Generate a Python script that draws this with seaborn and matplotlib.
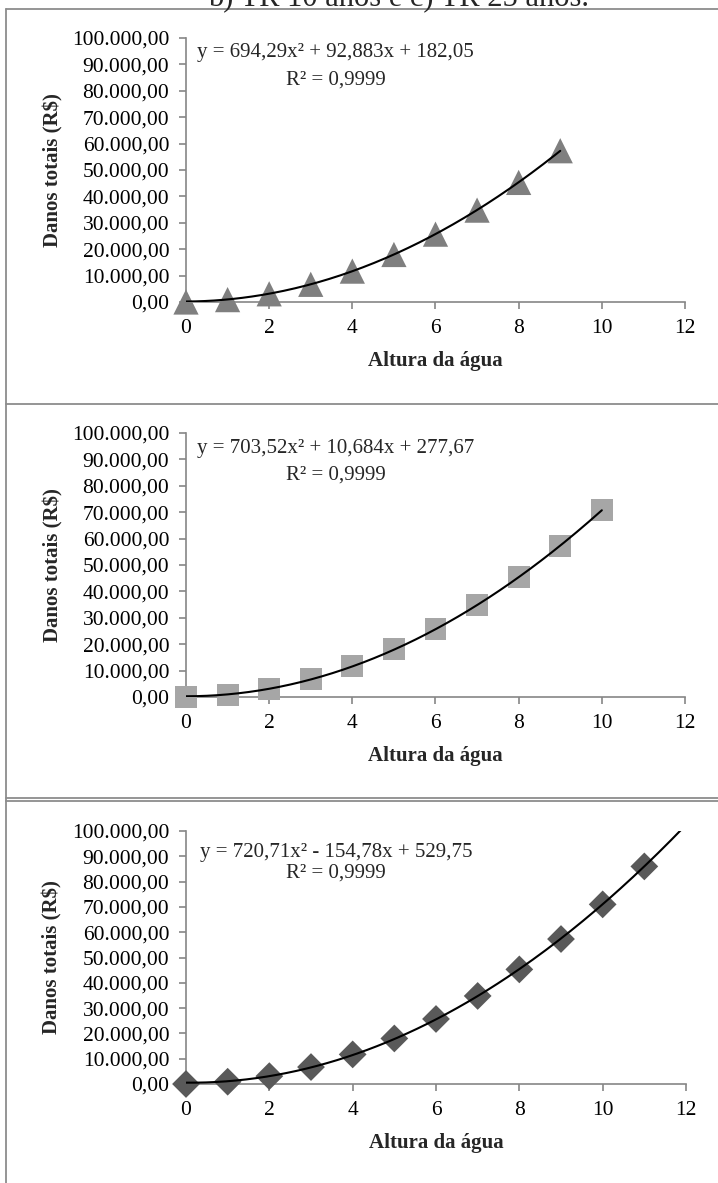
import numpy as np
import pandas as pd
import seaborn as sns
import matplotlib.pyplot as plt
from matplotlib.lines import Line2D
from matplotlib.ticker import FuncFormatter

# dados (altura da agua x danos totais)
altura = [0, 1, 2, 3, 4, 5, 6, 7, 8, 9, 10, 11]
danos_a = [0, 900, 3100, 6700, 11700, 18000, 25700, 34800, 45300, 57300]
danos_b = [0, 900, 3100, 6700, 11700, 18000, 25700, 34800, 45300, 57300, 71000]
danos_c = [0, 900, 3100, 6700, 11700, 18000, 25700, 34800, 45300, 57300, 71000, 86000]

# coeficientes das linhas de tendencia (polinomio de 2a ordem)
coef_a = [694.29, 92.883, 182.05]
coef_b = [703.52, 10.684, 277.67]
coef_c = [720.71, -154.78, 529.75]
eq_a = "y = 694,29x² + 92,883x + 182,05"
eq_b = "y = 703,52x² + 10,684x + 277,67"
eq_c = "y = 720,71x² - 154,78x + 529,75"
r2_txt = "R² = 0,9999"

x_ticks = [0, 2, 4, 6, 8, 10, 12]
y_ticks = [0, 10000, 20000, 30000, 40000, 50000, 60000, 70000, 80000, 90000, 100000]

sns.set_theme(style="white")
plt.rcParams['font.family'] = ['Liberation Serif', 'DejaVu Serif']

W, H = 718, 1183
fig = plt.figure(figsize=(W / 100, H / 100), dpi=100)


def pos(left, top, right, bottom):
    return [left / W, 1 - bottom / H, (right - left) / W, (bottom - top) / H]


def br(v, _):
    s = f"{v:,.2f}"
    return s.replace(",", "X").replace(".", ",").replace("X", ".")


painel = [
    (pos(186, 38, 685, 302), danos_a, coef_a, eq_a, "^", "#7f7f7f", 330, 9, 15),
    (pos(186, 433, 685, 697), danos_b, coef_b, eq_b, "s", "#a6a6a6", 250, 10, 15),
    (pos(186, 831, 686, 1084), danos_c, coef_c, eq_c, "D", "#595959", 200, 12, 21),
]

for rect, danos, coef, eq, mk, cor, tam, xmax, dy in painel:
    ax = fig.add_axes(rect)
    df = pd.DataFrame({"x": altura[:len(danos)], "y": danos})
    xs = np.linspace(0, xmax, 200)
    curva = pd.DataFrame({"x": xs, "y": np.polyval(coef, xs)})
    sns.scatterplot(data=df, x="x", y="y", marker=mk, color=cor, s=tam,
                    edgecolor="none", ax=ax, clip_on=False, zorder=3)
    sns.lineplot(data=curva, x="x", y="y", color="black", linewidth=1.5,
                 ax=ax, zorder=4)
    ax.set_xlim(0, 12)
    ax.set_ylim(0, 100000)
    ax.set_xticks(x_ticks)
    ax.set_yticks(y_ticks)
    ax.yaxis.set_major_formatter(FuncFormatter(br))
    sns.despine(ax=ax)
    for sp in ["left", "bottom"]:
        ax.spines[sp].set_color("#868686")
        ax.spines[sp].set_linewidth(1.2)
    ax.tick_params(axis="both", direction="out", length=5, width=1.2,
                   color="#868686", labelsize=15.5, labelcolor="black", pad=7,
                   left=True, bottom=True)
    ax.set_xlabel("Altura da água", fontsize=15, fontweight="bold")
    ax.set_ylabel("Danos totais (R$)", fontsize=15, fontweight="bold")
    alt = rect[3] * H
    ax.xaxis.set_label_coords(0.5, -49 / alt)
    ax.yaxis.set_label_coords(-123 / 499, 0.5)
    ax.text(0.30, 1 - dy / alt, eq, transform=ax.transAxes, ha="center",
            va="center", fontsize=15)
    ax.text(0.30, 1 - 42 / alt, r2_txt, transform=ax.transAxes, ha="center",
            va="center", fontsize=15)

# molduras dos paineis
borda = "#8c8c8c"
for y in [9, 404, 798, 801]:
    fig.add_artist(Line2D([6 / W, 1], [1 - y / H, 1 - y / H], color=borda, lw=1.3))
fig.add_artist(Line2D([6 / W, 6 / W], [1 - 9 / H, 0], color=borda, lw=1.3))

fig.text(399 / W, 1 - 6 / H, "b) TR 10 anos e c) TR 25 anos.", ha="center",
         va="baseline", fontsize=22)

fig.savefig("out.png", dpi=100)
